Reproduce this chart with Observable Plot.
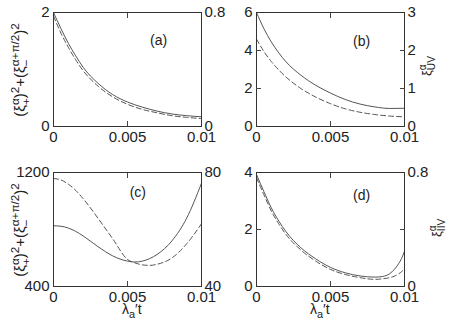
<!DOCTYPE html>
<html><head><meta charset="utf-8">
<script src="https://cdn.jsdelivr.net/npm/d3@7"></script>
<script src="https://cdn.jsdelivr.net/npm/@observablehq/plot@0.6"></script>
<style>
body{margin:0;background:#fff}
#wrap{position:relative;width:450px;height:325px;overflow:hidden;background:#fff}
#wrap svg{position:absolute;overflow:visible}
</style></head><body><div id="wrap"></div>
<script>
// shared x axis
const xTicks = [0, 0.005, 0.01];
const xTickLabels = ["0", "0.005", "0.01"];
const xMidTicks = [0.005];

// (a)
const tA = [0,0.0005,0.001,0.0015,0.002,0.003,0.004,0.005,0.006,0.007,0.008,0.009,0.01];
const aSolid  = [2.00,1.72,1.46,1.24,1.04,0.76,0.56,0.43,0.34,0.27,0.22,0.19,0.17];
const aDashed = [1.94,1.64,1.39,1.17,0.98,0.71,0.52,0.39,0.30,0.24,0.19,0.16,0.14];
const aYTicks = [0, 2];
const aYLabels = ["0", "2"];
const aY2Ticks = [0, 0.8];
const aY2Labels = ["0", "0.8"];

// (b)
const tB = [0,0.0005,0.001,0.0015,0.002,0.003,0.004,0.005,0.006,0.007,0.008,0.009,0.01];
const bSolid  = [6.00,5.15,4.45,3.88,3.40,2.70,2.17,1.76,1.42,1.18,1.03,0.95,0.96];
const bDashed = [4.60,3.95,3.42,2.98,2.60,2.00,1.55,1.20,0.93,0.75,0.63,0.55,0.51];
const bYTicks = [0, 2, 4, 6];
const bYLabels = ["0", "2", "4", "6"];
const bY2Ticks = [0, 1, 2, 3];
const bY2Labels = ["0", "1", "2", "3"];

// (c)
const tC = [0,0.0005,0.001,0.0015,0.002,0.003,0.004,0.005,0.0055,0.006,0.0065,0.007,0.008,0.009,0.01];
const cSolid  = [826,823,810,787,755,680,615,578,572,578,596,625,720,880,1125];
const cDashed = [1158,1148,1118,1075,1017,880,735,590,566,552,548,556,600,700,840];
const cYTicks = [400, 1200];
const cYLabels = ["400", "1200"];
const cY2Ticks = [40, 80];
const cY2Labels = ["40", "80"];

// (d)
const tD = [0,0.0005,0.001,0.0015,0.002,0.003,0.004,0.005,0.006,0.007,0.0075,0.008,0.0085,0.009,0.0093,0.0096,0.0098,0.01];
const dSolid  = [3.93,3.33,2.76,2.30,1.92,1.36,0.97,0.67,0.48,0.37,0.34,0.33,0.35,0.45,0.59,0.80,0.98,1.24];
const dDashed = [3.82,3.22,2.65,2.20,1.82,1.28,0.89,0.60,0.42,0.31,0.27,0.25,0.27,0.31,0.36,0.44,0.52,0.62];
const dYTicks = [0, 2, 4];
const dYLabels = ["0", "2", "4"];
const dY2Ticks = [0, 0.8];
const dY2Labels = ["0", "0.8"];

const panelNames = ["(a)", "(b)", "(c)", "(d)"];

const FONT = "Liberation Sans, Arial, Helvetica, sans-serif";
const wrap = document.getElementById("wrap");

function panel(cfg) {
  const {t, solid, dashed, yDomain, yTicks, yLabels, y2Domain, y2Ticks, y2Labels, name, nameX, nameY, left, top, mL, mR} = cfg;
  const [y0, y1] = yDomain, [r0, r1] = y2Domain;
  const y2Pos = y2Ticks.map(v => y0 + (v - r0) / (r1 - r0) * (y1 - y0));
  const y2Map = new Map(y2Pos.map((p, i) => [p, y2Labels[i]]));
  const yMap = new Map(yTicks.map((v, i) => [v, yLabels[i]]));
  const innerY = yTicks.filter(v => v > y0 && v < y1);
  const xMap = new Map(xTicks.map((v, i) => [v, xTickLabels[i]]));
  const marks = [
    Plot.line(solid, {x: t, y: solid, curve: "monotone-x", stroke: "#555", strokeWidth: 1}),
    Plot.line(dashed, {x: t, y: dashed, curve: "monotone-x", stroke: "#555", strokeWidth: 1, strokeDasharray: "5,3"}),
    Plot.axisX(xTicks, {anchor: "bottom", tickSize: 0, tickPadding: 5, tickFormat: d => xMap.get(d), label: null}),
    Plot.axisX(xMidTicks, {anchor: "bottom", tickSize: -5, fill: "none", tickFormat: () => "", label: null, stroke: "#444"}),
    Plot.axisX(xMidTicks, {anchor: "top", tickSize: -5, fill: "none", tickFormat: () => "", label: null, stroke: "#444"}),
    Plot.axisY(yTicks, {anchor: "left", tickSize: 0, tickPadding: 4, tickFormat: d => yMap.get(d), label: null}),
    Plot.axisY(y2Pos, {anchor: "right", tickSize: 0, tickPadding: 3, tickFormat: d => y2Map.get(d), label: null}),
    Plot.text([name], {x: [nameX], y: [nameY], text: [name], fontSize: 14}),
    Plot.frame({stroke: "#333"})
  ];
  if (innerY.length) {
    marks.push(Plot.axisY(innerY, {anchor: "left", tickSize: -5, fill: "none", tickFormat: () => "", label: null, stroke: "#444"}));
    marks.push(Plot.axisY(innerY, {anchor: "right", tickSize: -5, fill: "none", tickFormat: () => "", label: null, stroke: "#444"}));
  }
  const svg = Plot.plot({
    width: 225, height: 160,
    marginLeft: mL, marginRight: mR, marginTop: 12, marginBottom: 34,
    x: {domain: [0, 0.01]},
    y: {domain: yDomain},
    style: {fontFamily: FONT, fontSize: "15px", color: "#222", background: "transparent", overflow: "visible"},
    marks
  });
  svg.style.left = left + "px";
  svg.style.top = top + "px";
  wrap.appendChild(svg);
  return svg;
}

const svgA = panel({t: tA, solid: aSolid, dashed: aDashed, yDomain: [0, 2], yTicks: aYTicks, yLabels: aYLabels, y2Domain: [0, 0.8], y2Ticks: aY2Ticks, y2Labels: aY2Labels, name: panelNames[0], nameX: 0.0071, nameY: 1.51, left: 0, top: 0, mL: 53, mR: 24});
const svgB = panel({t: tB, solid: bSolid, dashed: bDashed, yDomain: [0, 6], yTicks: bYTicks, yLabels: bYLabels, y2Domain: [0, 3], y2Ticks: bY2Ticks, y2Labels: bY2Labels, name: panelNames[1], nameX: 0.0071, nameY: 4.47, left: 225, top: 0, mL: 31, mR: 46});
const svgC = panel({t: tC, solid: cSolid, dashed: cDashed, yDomain: [400, 1200], yTicks: cYTicks, yLabels: cYLabels, y2Domain: [40, 80], y2Ticks: cY2Ticks, y2Labels: cY2Labels, name: panelNames[2], nameX: 0.0057, nameY: 1062, left: 0, top: 160, mL: 53, mR: 24});
const svgD = panel({t: tD, solid: dSolid, dashed: dDashed, yDomain: [0, 4], yTicks: dYTicks, yLabels: dYLabels, y2Domain: [0, 0.8], y2Ticks: dY2Ticks, y2Labels: dY2Labels, name: panelNames[3], nameX: 0.0071, nameY: 3.19, left: 225, top: 160, mL: 31, mR: 46});

// rich text labels with super/subscripts
function rich(svg, x, y, parts, size, rotate, anchor) {
  const text = d3.select(svg).append("text")
    .attr("transform", `translate(${x},${y}) rotate(${rotate})`)
    .attr("font-size", size).attr("text-anchor", anchor)
    .attr("fill", "#222").attr("font-family", FONT);
  let shift = 0, supW = 0, pending = 0;
  for (const p of parts) {
    const sz = p.k === "b" ? size : size * 0.78;
    const target = p.k === "sup" ? -0.42 * size : p.k === "sub" ? 0.32 * size : 0;
    const ts = text.append("tspan").attr("font-size", sz).attr("dy", target - shift).text(p.t);
    shift = target;
    let dx = 0;
    if (p.stack) dx -= supW;
    else if (pending > 0) { dx += pending; }
    if (!p.stack) pending = 0;
    if (dx) ts.attr("dx", dx);
    const w = ts.node().getComputedTextLength();
    if (p.k === "sup") supW = w;
    if (p.stack) pending = supW - w;
  }
}

const leftLabel = [
  {t: "(", k: "b"}, {t: "ξ", k: "b"}, {t: "α", k: "sup"}, {t: "+", k: "sub", stack: true},
  {t: ")", k: "b"}, {t: "2", k: "sup"}, {t: "+(", k: "b"}, {t: "ξ", k: "b"},
  {t: "α+π/2", k: "sup"}, {t: "−", k: "sub", stack: true}, {t: ")", k: "b"}, {t: "2", k: "sup"}
];
const xLabel = [{t: "λ", k: "b"}, {t: "a", k: "sub"}, {t: "′t", k: "b"}];
const bRight = [{t: "ξ", k: "b"}, {t: "α", k: "sup"}, {t: "UV", k: "sub", stack: true}];
const dRight = [{t: "ξ", k: "b"}, {t: "α", k: "sup"}, {t: "IIV", k: "sub", stack: true}];

rich(svgA, 25, 70, leftLabel, 15, -90, "middle");
rich(svgC, 25, 70, leftLabel, 15, -90, "middle");
rich(svgC, 122, 154, xLabel, 14, 0, "start");
rich(svgD, 310 - 225, 154, xLabel, 14, 0, "start");
rich(svgB, 431 - 225, 76, bRight, 13, -90, "start");
rich(svgD, 441 - 225, 237 - 160, dRight, 13, -90, "start");
</script></body></html>
